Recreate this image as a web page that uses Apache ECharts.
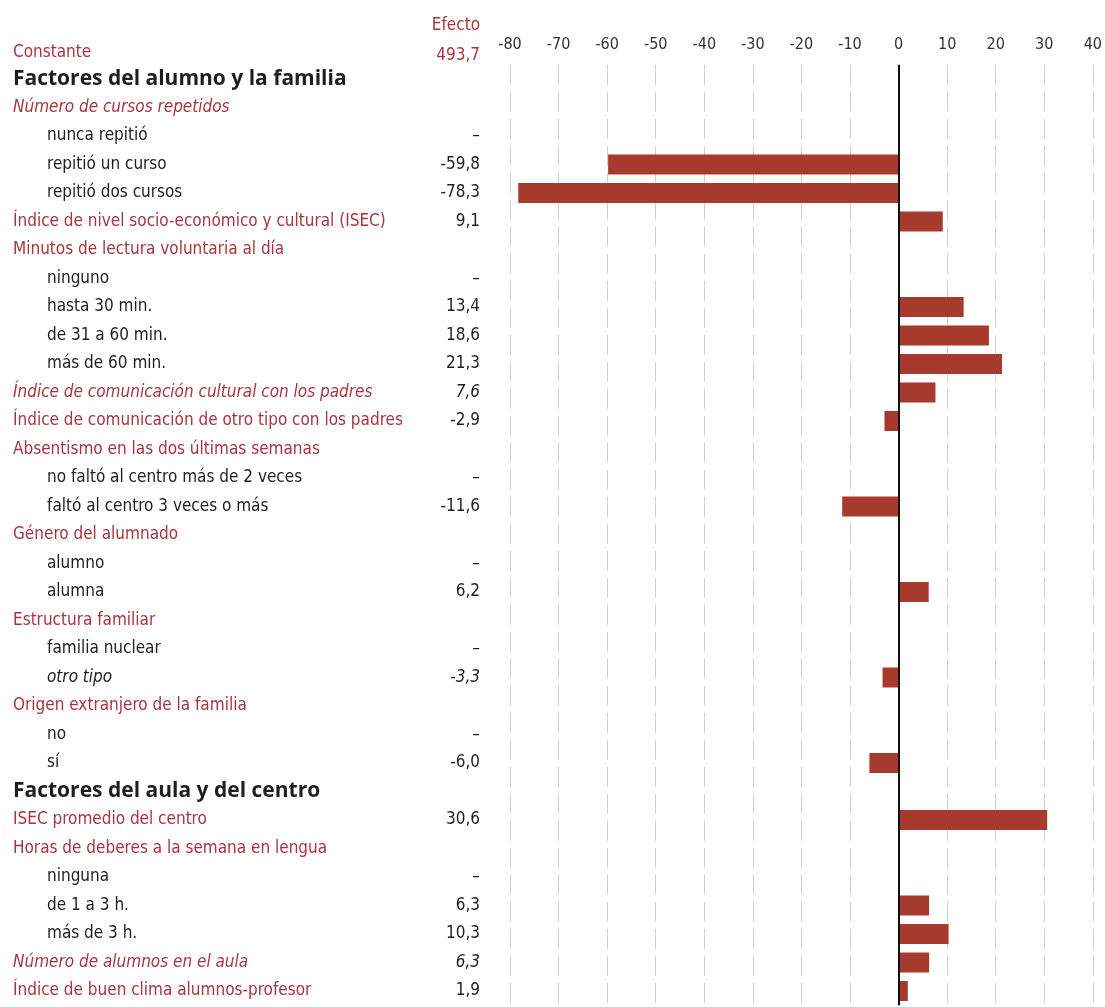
<!DOCTYPE html>
<html>
<head>
<meta charset="utf-8">
<script src="https://cdn.jsdelivr.net/npm/echarts@6/dist/echarts.min.js"></script>
<style>
  html, body { margin: 0; padding: 0; background: #fff; }
  #chart { width: 1105px; height: 1007px; }
</style>
</head>
<body>
<div id="chart"></div>
<script>
// filas de la tabla (la primera es la constante del modelo)
var categorias = [
    'Constante',
    'Factores del alumno y la familia',
    'Número de cursos repetidos',
    'nunca repitió',
    'repitió un curso',
    'repitió dos cursos',
    'Índice de nivel socio-económico y cultural (ISEC)',
    'Minutos de lectura voluntaria al día',
    'ninguno',
    'hasta 30 min.',
    'de 31 a 60 min.',
    'más de 60 min.',
    'Índice de comunicación cultural con los padres',
    'Índice de comunicación de otro tipo con los padres',
    'Absentismo en las dos últimas semanas',
    'no faltó al centro más de 2 veces',
    'faltó al centro 3 veces o más',
    'Género del alumnado',
    'alumno',
    'alumna',
    'Estructura familiar',
    'familia nuclear',
    'otro tipo',
    'Origen extranjero de la familia',
    'no',
    'sí',
    'Factores del aula y del centro',
    'ISEC promedio del centro',
    'Horas de deberes a la semana en lengua',
    'ninguna',
    'de 1 a 3 h.',
    'más de 3 h.',
    'Número de alumnos en el aula',
    'Índice de buen clima alumnos-profesor'
];

// efecto de cada fila: número, '–' = categoría de referencia, null = sin valor
var efectos = [
    493.7, null, null, '–', -59.8, -78.3, 9.1, null, '–', 13.4, 18.6, 21.3,
    7.6, -2.9, null, '–', -11.6, null, '–', 6.2, null, '–', -3.3, null, '–',
    -6.0, null, 30.6, null, '–', 6.3, 10.3, 6.3, 1.9
];

// tipo de fila: r = rojo, ri = rojo cursiva, t = titulo, s = subcategoria, si = subcategoria cursiva
var tipos = [
    'r', 't', 'ri', 's', 's', 's', 'r', 'r', 's', 's', 's', 's',
    'ri', 'r', 'r', 's', 's', 'r', 's', 's', 'r', 's', 'si', 'r', 's',
    's', 't', 'r', 'r', 's', 's', 's', 'ri', 'r'
];

var ejeTicks = [-80, -70, -60, -50, -40, -30, -20, -10, 0, 10, 20, 30, 40];

var FUENTE = '"Liberation Sans Narrow", "DejaVu Sans Condensed", sans-serif';
var ROJO = '#a8343f';
var NEGRO = '#1e1e1e';

function fmt(v) {
    if (typeof v !== 'number') return v == null ? '' : v;
    return v.toFixed(1).replace('.', ',');
}

var filas = categorias.slice(1);
var valores = efectos.slice(1);
var tiposFila = tipos.slice(1);

var chart = echarts.init(document.getElementById('chart'));

var option = {
    backgroundColor: '#fff',
    animation: false,
    title: [
        { text: categorias[0], left: 13, top: 44, padding: 0,
          textStyle: { color: ROJO, fontFamily: FUENTE, fontSize: 17, fontWeight: 'normal' } },
        { text: 'Efecto', right: 625, top: 17, padding: 0,
          textStyle: { color: ROJO, fontFamily: FUENTE, fontSize: 17, fontWeight: 'normal' } },
        { text: fmt(efectos[0]), right: 625, top: 47, padding: 0,
          textStyle: { color: ROJO, fontFamily: FUENTE, fontSize: 17, fontWeight: 'normal' } }
    ],
    grid: {
        left: 510,
        right: 12,
        top: 64.75,
        bottom: 1.75,
        containLabel: false
    },
    xAxis: {
        type: 'value',
        position: 'top',
        min: -80,
        max: 40,
        interval: 10,
        axisLine: { show: false },
        axisTick: { show: false },
        axisLabel: {
            margin: 12,
            color: '#333',
            fontFamily: FUENTE,
            fontSize: 16,
            formatter: function (v) { return ejeTicks.indexOf(v) >= 0 ? String(v) : ''; }
        },
        splitLine: {
            show: true,
            lineStyle: { color: '#cfcfcf', width: 1, type: [20, 7] }
        }
    },
    yAxis: [
        {
            type: 'category',
            data: filas,
            inverse: true,
            position: 'left',
            offset: 0,
            axisLine: { show: false, onZero: false },
            axisTick: { show: false },
            splitLine: { show: false },
            axisLabel: {
                align: 'left',
                margin: 497,
                interval: 0,
                formatter: function (v, i) { return '{' + tiposFila[i] + '|' + v + '}'; },
                rich: {
                    r: { color: ROJO, fontFamily: FUENTE, fontSize: 17 },
                    ri: { color: ROJO, fontFamily: FUENTE, fontSize: 17, fontStyle: 'italic' },
                    t: { color: NEGRO, fontFamily: '"Open Sans", sans-serif', fontSize: 21, fontWeight: 'bold' },
                    s: { color: NEGRO, fontFamily: FUENTE, fontSize: 17, padding: [0, 0, 0, 34] },
                    si: { color: NEGRO, fontFamily: FUENTE, fontSize: 17, fontStyle: 'italic', padding: [0, 0, 0, 34] }
                }
            }
        },
        {
            type: 'category',
            data: filas,
            inverse: true,
            position: 'left',
            offset: 0,
            axisLine: { show: false, onZero: false },
            axisTick: { show: false },
            splitLine: { show: false },
            axisLabel: {
                align: 'right',
                margin: 30,
                interval: 0,
                formatter: function (v, i) {
                    var t = fmt(valores[i]);
                    if (t === '') return '';
                    var it = (tiposFila[i] === 'ri' || tiposFila[i] === 'si') ? 'vi' : 'v';
                    return '{' + it + '|' + t + '}';
                },
                rich: {
                    v: { color: NEGRO, fontFamily: FUENTE, fontSize: 17 },
                    vi: { color: NEGRO, fontFamily: FUENTE, fontSize: 17, fontStyle: 'italic' }
                }
            }
        }
    ],
    series: [
        {
            type: 'bar',
            yAxisIndex: 0,
            barWidth: 20,
            data: valores.map(function (v) { return typeof v === 'number' ? v : null; }),
            itemStyle: { color: '#a63a2c' },
            markLine: {
                silent: true,
                symbol: 'none',
                label: { show: false },
                lineStyle: { color: '#111', width: 2, type: 'solid' },
                data: [{ xAxis: 0 }]
            }
        }
    ]
};

chart.setOption(option);
</script>
</body>
</html>
